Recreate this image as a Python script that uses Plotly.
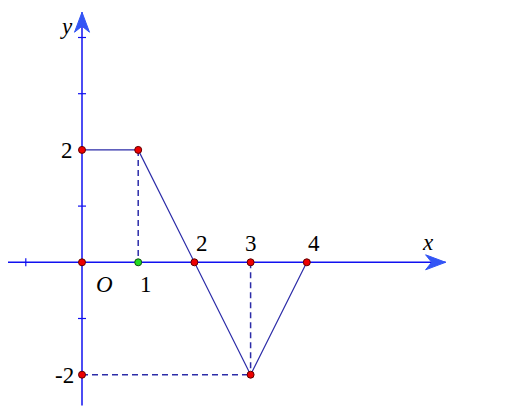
import plotly.graph_objects as go

# piecewise graph
graph_x = [0, 1, 2, 3, 4]
graph_y = [2, 2, 0, -2, 0]

# dashed helper segments (None splits segments)
dash_x = [1, 1, None, 3, 3, None, 0, 3]
dash_y = [2, 0, None, 0, -2, None, -2, -2]

# marked points
red_x = [0, 1, 0, 2, 3, 4, 3, 0]
red_y = [2, 2, 0, 0, 0, 0, -2, -2]
green_x = [1]
green_y = [0]

# axis extents and small ticks
x_axis = [-1.37, 6.47]
y_axis = [-2.55, 4.45]
x_ticks = [-1]
y_ticks = [4, 3, 1, -1]

AXIS = "#1010f0"
LINE = "#2c2ca8"
ARROW = "#3355f5"
FONT = dict(family="Liberation Serif, Times New Roman, serif", size=23, color="black")

PX = 56.2  # pixels per unit
tick = 4 / PX
# origin position in the plot area (page has an 8px body margin)
OX, OY = 82 - 8, 262.3 - 8

fig = go.Figure()

# axes
fig.add_trace(go.Scatter(x=x_axis, y=[0, 0], mode="lines",
                         line=dict(color=AXIS, width=1.5), hoverinfo="skip"))
fig.add_trace(go.Scatter(x=[0, 0], y=y_axis, mode="lines",
                         line=dict(color=AXIS, width=1.5), hoverinfo="skip"))

# tick marks
tx, ty = [], []
for t in x_ticks:
    tx += [t, t, None]
    ty += [-tick, tick, None]
for t in y_ticks:
    tx += [-tick, tick, None]
    ty += [t, t, None]
fig.add_trace(go.Scatter(x=tx, y=ty, mode="lines",
                         line=dict(color=AXIS, width=1.2), hoverinfo="skip"))

# arrowheads (stealth shape)
L, W, N = 20 / PX, 7.5 / PX, 14 / PX
xe = x_axis[1]
fig.add_trace(go.Scatter(x=[xe, xe - L, xe - N, xe - L, xe], y=[0, W, 0, -W, 0],
                         mode="lines", fill="toself", fillcolor=ARROW,
                         line=dict(color=ARROW, width=1), hoverinfo="skip"))
ye = y_axis[1]
fig.add_trace(go.Scatter(x=[0, W, 0, -W, 0], y=[ye, ye - L, ye - N, ye - L, ye],
                         mode="lines", fill="toself", fillcolor=ARROW,
                         line=dict(color=ARROW, width=1), hoverinfo="skip"))

# dashed helpers
fig.add_trace(go.Scatter(x=dash_x, y=dash_y, mode="lines",
                         line=dict(color=LINE, width=1.5, dash="6px,4px"),
                         hoverinfo="skip"))

# graph
fig.add_trace(go.Scatter(x=graph_x, y=graph_y, mode="lines",
                         line=dict(color=LINE, width=1.2), hoverinfo="skip"))

# points
fig.add_trace(go.Scatter(x=red_x, y=red_y, mode="markers",
                         marker=dict(color="#ee0000", size=7,
                                     line=dict(color="#600000", width=1))))
fig.add_trace(go.Scatter(x=green_x, y=green_y, mode="markers",
                         marker=dict(color="#22dd22", size=7,
                                     line=dict(color="#105010", width=1))))

# labels
def label(text, x, y, dx, dy, italic=False):
    t = "<i>%s</i>" % text if italic else text
    fig.add_annotation(x=x, y=y, text=t, showarrow=False, font=FONT,
                       xshift=dx, yshift=dy)

label("y", 0, y_axis[1], -16, -14, italic=True)
label("x", x_axis[1], 0, -18, 20, italic=True)
label("O", 0, 0, 22, -22, italic=True)
label("1", 1, 0, 8, -22)
label("2", 2, 0, 8, 19)
label("3", 3, 0, 0, 19)
label("4", 4, 0, 7, 19)
label("2", 0, 2, -15, -1)
label("-2", 0, -2, -18, -1)

fig.update_layout(
    width=506, height=412,
    margin=dict(l=0, r=0, t=0, b=0),
    paper_bgcolor="white", plot_bgcolor="white",
    showlegend=False,
    xaxis=dict(range=[-OX / PX, (506 - OX) / PX], visible=False, fixedrange=True),
    yaxis=dict(range=[(OY - 412) / PX, OY / PX], visible=False, fixedrange=True),
)

fig.write_html("out.html")
